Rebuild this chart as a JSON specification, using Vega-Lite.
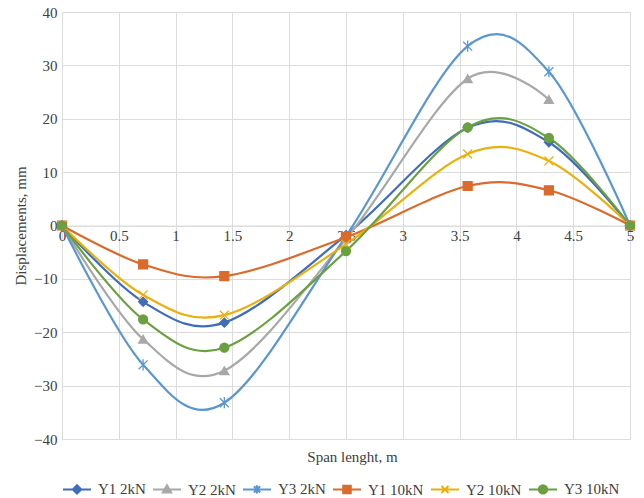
{
  "$schema": "https://vega.github.io/schema/vega-lite/v6.json",
  "autosize": "none",
  "width": 568,
  "height": 427,
  "padding": {"left": 62, "top": 12, "right": 14, "bottom": 59},
  "background": "white",
  "config": {
    "font": "Liberation Serif",
    "view": {"stroke": null},
    "axis": {"labelFont": "Liberation Serif", "titleFont": "Liberation Serif", "labelColor": "#404040", "titleColor": "#404040", "labelFontSize": 15, "titleFontSize": 15, "titleFontWeight": "normal", "gridColor": "#dcdcdc", "gridWidth": 1, "domainColor": "#dcdcdc", "ticks": false},
    "legend": {"labelFont": "Liberation Serif", "labelFontSize": 15, "labelColor": "#404040"}
  },
  "data": {
    "values": [
      {"series": "Y1 2kN", "x": 0, "y": 0},
      {"series": "Y1 2kN", "x": 0.714, "y": -14.3},
      {"series": "Y1 2kN", "x": 1.429, "y": -18.2},
      {"series": "Y1 2kN", "x": 2.5, "y": -1.8},
      {"series": "Y1 2kN", "x": 3.571, "y": 18.3},
      {"series": "Y1 2kN", "x": 4.286, "y": 15.6},
      {"series": "Y1 2kN", "x": 5, "y": 0},
      {"series": "Y2 2kN", "x": 0, "y": 0},
      {"series": "Y2 2kN", "x": 0.714, "y": -21.3},
      {"series": "Y2 2kN", "x": 1.429, "y": -27.2},
      {"series": "Y2 2kN", "x": 2.5, "y": -2.5},
      {"series": "Y2 2kN", "x": 3.571, "y": 27.5},
      {"series": "Y2 2kN", "x": 4.286, "y": 23.6},
      {"series": "Y3 2kN", "x": 0, "y": 0},
      {"series": "Y3 2kN", "x": 0.714, "y": -26.1},
      {"series": "Y3 2kN", "x": 1.429, "y": -33.2},
      {"series": "Y3 2kN", "x": 2.5, "y": -2.0},
      {"series": "Y3 2kN", "x": 3.571, "y": 33.6},
      {"series": "Y3 2kN", "x": 4.286, "y": 28.8},
      {"series": "Y3 2kN", "x": 5, "y": 0},
      {"series": "Y1 10kN", "x": 0, "y": 0},
      {"series": "Y1 10kN", "x": 0.714, "y": -7.3},
      {"series": "Y1 10kN", "x": 1.429, "y": -9.5},
      {"series": "Y1 10kN", "x": 2.5, "y": -2.2},
      {"series": "Y1 10kN", "x": 3.571, "y": 7.4},
      {"series": "Y1 10kN", "x": 4.286, "y": 6.6},
      {"series": "Y1 10kN", "x": 5, "y": 0},
      {"series": "Y2 10kN", "x": 0, "y": 0},
      {"series": "Y2 10kN", "x": 0.714, "y": -13.0},
      {"series": "Y2 10kN", "x": 1.429, "y": -16.8},
      {"series": "Y2 10kN", "x": 2.5, "y": -3.5},
      {"series": "Y2 10kN", "x": 3.571, "y": 13.4},
      {"series": "Y2 10kN", "x": 4.286, "y": 12.1},
      {"series": "Y2 10kN", "x": 5, "y": 0},
      {"series": "Y3 10kN", "x": 0, "y": 0},
      {"series": "Y3 10kN", "x": 0.714, "y": -17.6},
      {"series": "Y3 10kN", "x": 1.429, "y": -22.9},
      {"series": "Y3 10kN", "x": 2.5, "y": -4.8},
      {"series": "Y3 10kN", "x": 3.571, "y": 18.4},
      {"series": "Y3 10kN", "x": 4.286, "y": 16.4},
      {"series": "Y3 10kN", "x": 5, "y": 0}
    ]
  },
  "encoding": {
    "x": {
      "field": "x", "type": "quantitative",
      "scale": {"domain": [0, 5], "nice": false, "zero": false},
      "axis": {
        "title": "Span lenght, m",
        "values": [0, 0.5, 1, 1.5, 2, 2.5, 3, 3.5, 4, 4.5, 5],
        "format": "~g",
        "labelFlush": false,
        "labelPadding": 3,
        "labelOverlap": false,
        "offset": {"expr": "scale('y', 0) - height"},
        "titleBaseline": "middle",
        "titleY": 231,
        "titleX": 290,
        "grid": true
      }
    },
    "y": {
      "field": "y", "type": "quantitative",
      "scale": {"domain": [-40, 40], "nice": false},
      "axis": {
        "title": "Displacements, mm",
        "values": [-40, -30, -20, -10, 0, 10, 20, 30, 40],
        "labelPadding": 5,
        "titlePadding": 5,
        "labelFlush": false,
        "domain": false,
        "grid": true
      }
    }
  },
  "layer": [
    {
      "mark": {"type": "line", "interpolate": "cardinal", "strokeWidth": 2.2},
      "encoding": {
        "color": {
          "field": "series", "type": "nominal",
          "scale": {
            "domain": ["Y1 2kN", "Y2 2kN", "Y3 2kN", "Y1 10kN", "Y2 10kN", "Y3 10kN"],
            "range": ["#3F6DB8", "#A8A8A8", "#5B97CF", "#DA6B2C", "#EAB00E", "#6BA040"]
          },
          "legend": {
            "title": null,
            "orient": "none",
            "direction": "horizontal",
            "legendX": 0,
            "legendY": 462,
            "columnPadding": 3,
            "labelOffset": 6,
            "symbolSize": 784,
            "symbolStrokeWidth": 2,
            "encode": {
              "symbols": {
                "update": {
                  "shape": {"signal": "['M-1,0H1M0,-0.3L0.3,0L0,0.3L-0.3,0Z', 'M-1,0H1M0,-0.3L0.3,0.22L-0.3,0.22Z', 'M-1,0H1M-0.22,-0.22L0.22,0.22M-0.22,0.22L0.22,-0.22M0,-0.3V0.3', 'M-1,0H1M-0.27,-0.27H0.27V0.27H-0.27Z', 'M-1,0H1M-0.25,-0.25L0.25,0.25M-0.25,0.25L0.25,-0.25', 'M-1,0H1M0.3,0A0.3,0.3,0,1,1,-0.3,0A0.3,0.3,0,1,1,0.3,0Z'][indexof(domain('color'), datum.value)]"},
                  "fill": {"signal": "scale('color', datum.value)"},
                  "stroke": {"signal": "scale('color', datum.value)"},
                  "strokeWidth": {"value": 2},
                  "opacity": {"value": 1}
                }
              }
            }
          }
        }
      }
    },
    {
      "mark": {"type": "point", "opacity": 1, "size": 80, "strokeWidth": 1.3},
      "encoding": {
        "fill": {
          "field": "series", "type": "nominal",
          "scale": {
            "range": ["#DA6B2C", "#3F6DB8", "#EAB00E", "#A8A8A8", "#6BA040", "#5B97CF"]
          },
          "legend": null
        },
        "stroke": {
          "field": "series", "type": "nominal",
          "scale": {
            "range": ["#DA6B2C", "#3F6DB8", "#EAB00E", "#A8A8A8", "#6BA040", "#5B97CF"]
          },
          "legend": null
        },
        "shape": {
          "field": "series", "type": "nominal",
          "scale": {
            "range": ["square", "diamond", "M-1,-1L1,1M-1,1L1,-1", "triangle-up", "circle", "M-1,-1L1,1M-1,1L1,-1M0,-1.25V1.25"]
          },
          "legend": null
        }
      }
    }
  ]
}
